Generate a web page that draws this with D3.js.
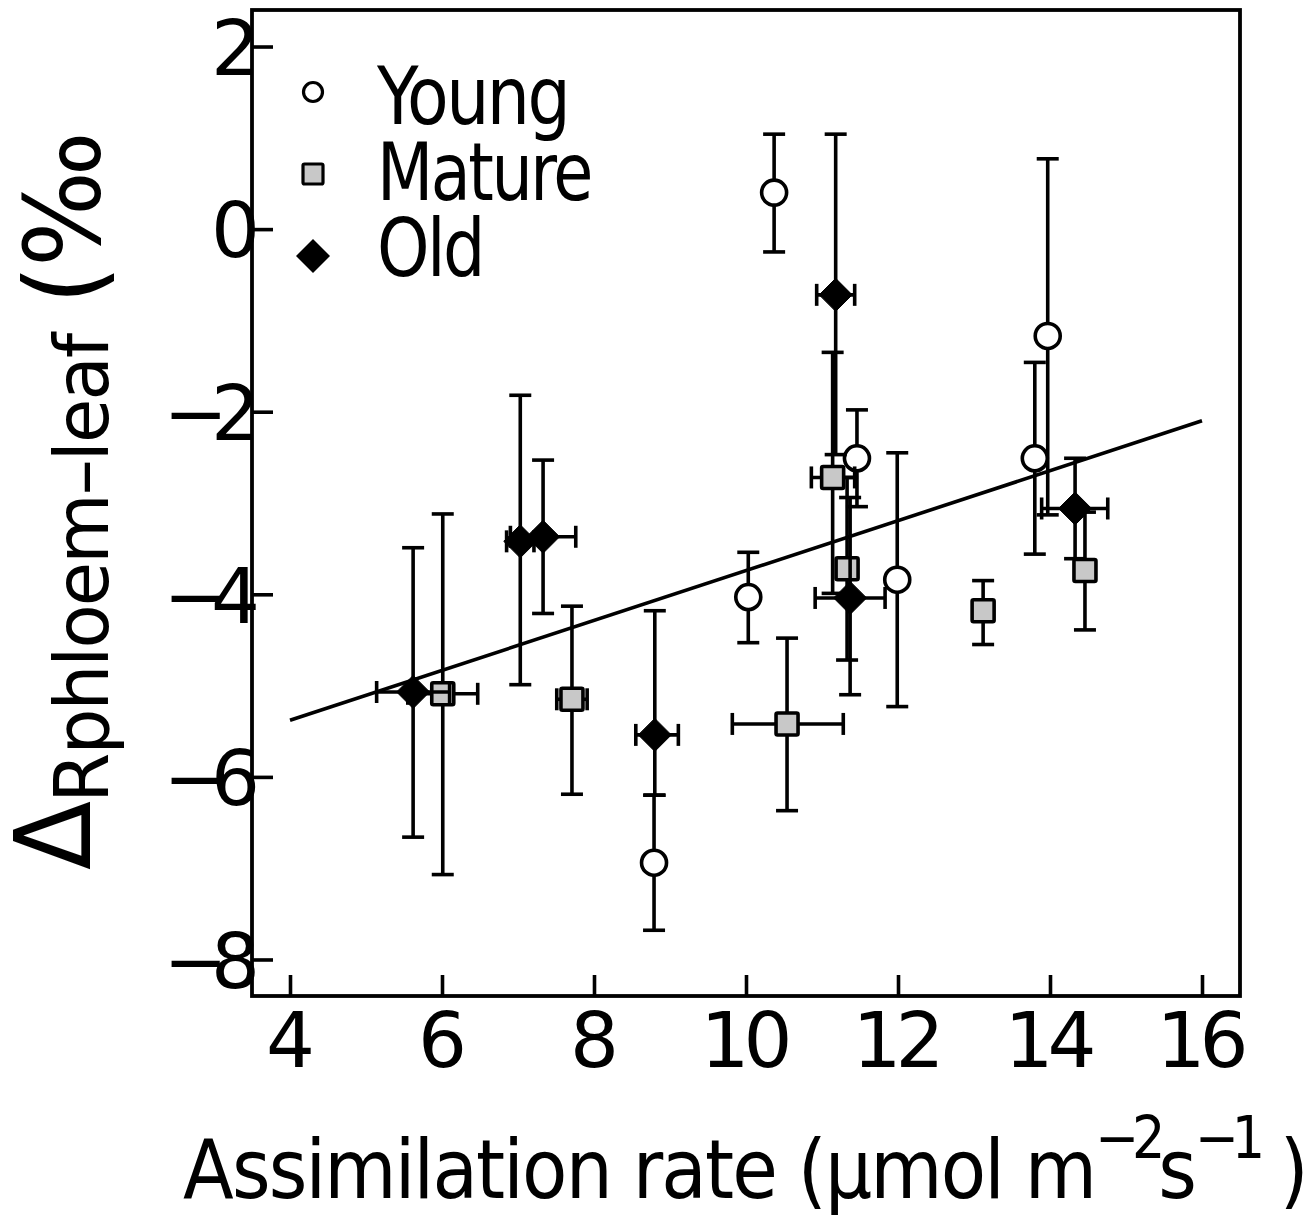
<!DOCTYPE html>
<html>
<head>
<meta charset="utf-8">
<script src="https://cdn.jsdelivr.net/npm/d3@7/dist/d3.min.js"></script>
<style>
  html, body { margin: 0; padding: 0; background: #fff; }
  svg { display: block; }
  text { font-family: "DejaVu Sans", sans-serif; fill: #000; }
</style>
</head>
<body>
<svg id="chart" width="1313" height="1216"></svg>
<script>
// ---------- data ----------
const xTicks = [4, 6, 8, 10, 12, 14, 16];
const yTicks = [-8, -6, -4, -2, 0, 2];

const youngX   = [10.37, 13.97, 13.80, 11.46, 11.99, 10.03, 8.79];
const youngY   = [0.40, -1.17, -2.51, -2.51, -3.84, -4.03, -6.94];
const youngYLo = [-0.25, -3.13, -3.56, -3.04, -5.23, -4.53, -7.68];
const youngYHi = [1.04, 0.77, -1.46, -1.98, -2.45, -3.54, -6.20];
const youngXLo = [null, null, null, null, null, null, null];
const youngXHi = [null, null, null, null, null, null, null];

const matureX   = [11.14, 11.33, 13.12, 14.46, 10.54, 7.71, 6.01];
const matureY   = [-2.72, -3.72, -4.18, -3.74, -5.42, -5.15, -5.09];
const matureYLo = [-3.99, -4.72, -4.55, -4.39, -6.37, -6.19, -7.07];
const matureYHi = [-1.35, -2.72, -3.85, -3.10, -4.48, -4.13, -3.12];
const matureXLo = [10.86, null, 12.99, null, 9.82, 7.51, 5.55];
const matureXHi = [11.43, null, 13.25, null, 11.28, 7.91, 6.47];

const oldX   = [11.18, 11.37, 14.33, 7.33, 7.03, 5.62, 8.80];
const oldY   = [-0.72, -4.04, -3.06, -3.37, -3.42, -5.07, -5.54];
const oldYLo = [-2.47, -5.10, -3.61, -4.21, -4.99, -6.66, -6.20];
const oldYHi = [1.04, -2.94, -2.51, -2.53, -1.82, -3.49, -4.18];
const oldXLo = [10.93, 10.91, 13.89, 6.90, 6.85, 5.14, 8.55];
const oldXHi = [11.43, 11.83, 14.76, 7.76, 7.21, 6.10, 9.11];

const fitX = [4, 16];
const fitY = [-5.38, -2.10];

const seriesNames = ["Young", "Mature", "Old"];

// ---------- layout ----------
const svg = d3.select("#chart");
const L = 252, R = 1240, T = 10, B = 996;
const x = d3.scaleLinear().domain([3.5, 16.5]).range([L, R]);
const y = d3.scaleLinear().domain([-8.4, 2.4]).range([B, T]);

const SW = 3.6;
const CAP = 11;

// squeeze a text horizontally (in its own frame) so its width equals target
function fitWidth(t, x0, target) {
  const w = t.node().getBBox().width;
  const k = target / w;
  t.attr("transform", `translate(${x0},0) scale(${k},1) translate(${-x0},0)`);
}

// regression line
svg.append("path")
  .datum(fitX.map((v, i) => [v, fitY[i]]))
  .attr("d", d3.line().x(d => x(d[0])).y(d => y(d[1])))
  .attr("fill", "none").attr("stroke", "#000").attr("stroke-width", SW);

function makeRows(X, Y, YLo, YHi, XLo, XHi) {
  return X.map((v, i) => ({x: v, y: Y[i], ylo: YLo[i], yhi: YHi[i], xlo: XLo[i], xhi: XHi[i]}));
}

const series = [
  {name: "Young", rows: makeRows(youngX, youngY, youngYLo, youngYHi, youngXLo, youngXHi), shape: "circle"},
  {name: "Mature", rows: makeRows(matureX, matureY, matureYLo, matureYHi, matureXLo, matureXHi), shape: "square"},
  {name: "Old", rows: makeRows(oldX, oldY, oldYLo, oldYHi, oldXLo, oldXHi), shape: "diamond"}
];

function drawMarker(g, shape, cx, cy) {
  if (shape === "circle") {
    g.append("circle").attr("cx", cx).attr("cy", cy).attr("r", 12.5)
      .attr("fill", "#fff").attr("stroke", "#000").attr("stroke-width", SW);
  } else if (shape === "square") {
    const h = 11;
    g.append("rect").attr("x", cx - h).attr("y", cy - h).attr("width", 2 * h).attr("height", 2 * h)
      .attr("fill", "#c8c8c8").attr("stroke", "#000").attr("stroke-width", SW).attr("rx", 1.5);
  } else {
    const h = 16.5;
    g.append("path").attr("d", `M${cx},${cy - h}L${cx + h},${cy}L${cx},${cy + h}L${cx - h},${cy}Z`)
      .attr("fill", "#000").attr("stroke", "#000").attr("stroke-width", 1);
  }
}

series.forEach(s => {
  const g = svg.append("g");
  s.rows.forEach(d => {
    const px = x(d.x), py = y(d.y);
    g.append("line").attr("x1", px).attr("x2", px).attr("y1", y(d.ylo)).attr("y2", y(d.yhi))
      .attr("stroke", "#000").attr("stroke-width", SW);
    [d.ylo, d.yhi].forEach(v => {
      g.append("line").attr("x1", px - CAP).attr("x2", px + CAP).attr("y1", y(v)).attr("y2", y(v))
        .attr("stroke", "#000").attr("stroke-width", SW);
    });
    if (d.xlo != null) {
      g.append("line").attr("x1", x(d.xlo)).attr("x2", x(d.xhi)).attr("y1", py).attr("y2", py)
        .attr("stroke", "#000").attr("stroke-width", SW);
      [d.xlo, d.xhi].forEach(v => {
        g.append("line").attr("x1", x(v)).attr("x2", x(v)).attr("y1", py - CAP).attr("y2", py + CAP)
          .attr("stroke", "#000").attr("stroke-width", SW);
      });
    }
  });
  s.rows.forEach(d => drawMarker(g, s.shape, x(d.x), y(d.y)));
});

// ---------- frame & axes ----------
svg.append("rect").attr("x", L).attr("y", T).attr("width", R - L).attr("height", B - T)
  .attr("fill", "none").attr("stroke", "#000").attr("stroke-width", 3.8);

const xAxis = svg.append("g").attr("transform", `translate(0,${B})`)
  .call(d3.axisBottom(x).tickValues(xTicks).tickSizeInner(-21).tickSizeOuter(0).tickPadding(0).tickFormat(d3.format("d")));
xAxis.select(".domain").remove();
xAxis.selectAll(".tick line").attr("stroke", "#000").attr("stroke-width", 3.6);
xAxis.selectAll(".tick text").attr("y", 71).attr("dy", 0)
  .style("font-size", "77px").style("letter-spacing", "-6px").attr("dx", "-3px");

const yFmt = d => (d < 0 ? "\u2212" + Math.abs(d) : String(d));
const yAxis = svg.append("g").attr("transform", `translate(${L},0)`)
  .call(d3.axisLeft(y).tickValues(yTicks).tickSizeInner(-21).tickSizeOuter(0).tickPadding(0).tickFormat(yFmt));
yAxis.select(".domain").remove();
yAxis.selectAll(".tick line").attr("stroke", "#000").attr("stroke-width", 3.6);
yAxis.selectAll(".tick text").attr("x", -9).attr("dy", "0.36em")
  .style("font-size", "77px").style("letter-spacing", "-17px").attr("text-anchor", "end");

// ---------- legend ----------
const legY = [92, 174, 256];
const legTextY = [124, 200, 276];
const legLen = [192, 214, 106];
series.forEach((s, i) => {
  const g = svg.append("g");
  if (s.shape === "circle") {
    g.append("circle").attr("cx", 313).attr("cy", legY[i]).attr("r", 9.5)
      .attr("fill", "#fff").attr("stroke", "#000").attr("stroke-width", 3.2);
  } else if (s.shape === "square") {
    g.append("rect").attr("x", 303).attr("y", legY[i] - 10).attr("width", 20).attr("height", 20)
      .attr("fill", "#c8c8c8").attr("stroke", "#000").attr("stroke-width", 3.2).attr("rx", 1.5);
  } else {
    const h = 17;
    g.append("path").attr("d", `M313,${legY[i] - h}L${313 + h},${legY[i]}L313,${legY[i] + h}L${313 - h},${legY[i]}Z`)
      .attr("fill", "#000");
  }
  const t = g.append("text").attr("x", 377).attr("y", legTextY[i]).style("font-size", "80px")
    .style("letter-spacing", "-3px").text(seriesNames[i]);
  fitWidth(t, 377, legLen[i]);
});

// ---------- axis titles ----------
const xt = svg.append("text").attr("x", 183).attr("y", 1198).style("font-size", "82px")
  .style("letter-spacing", "-2px");
xt.append("tspan").text("Assimilation rate (\u00b5mol m");
xt.append("tspan").attr("dy", -40).style("font-size", "58px").style("letter-spacing", "-8px").text("\u22122");
xt.append("tspan").attr("dy", 40).text("s");
xt.append("tspan").attr("dy", -40).style("font-size", "58px").style("letter-spacing", "-8px").text("\u22121");
xt.append("tspan").attr("dy", 40).text(" )");
fitWidth(xt, 183, 1124);

const ytg = svg.append("g").attr("transform", "translate(90,870) rotate(-90)");
const yt = ytg.append("text").attr("x", 0).attr("y", 0).style("font-size", "105px")
  .style("letter-spacing", "-2px");
yt.append("tspan").text("\u0394");
yt.append("tspan").attr("dy", 18).style("font-size", "75px").text("Rphloem\u2013leaf");
yt.append("tspan").attr("dy", -8).text(" (\u2030");
fitWidth(yt, 0, 737);
</script>
</body>
</html>
